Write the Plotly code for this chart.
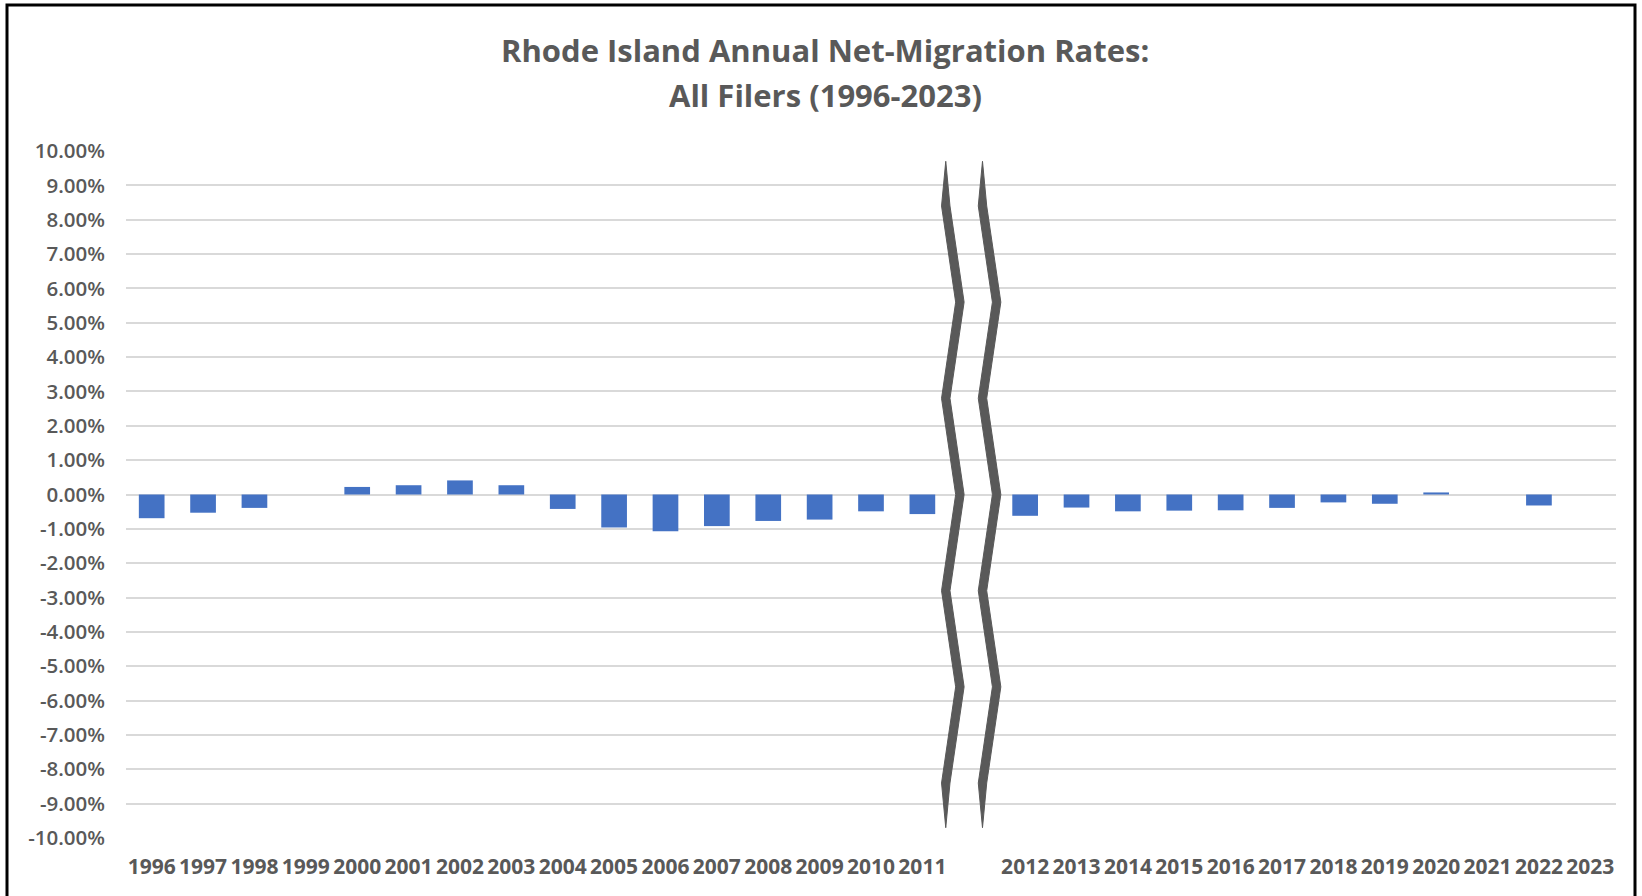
import plotly.graph_objects as go

# Years shown on the category axis; a blank slot separates the two periods
years_early = ["1996", "1997", "1998", "1999", "2000", "2001", "2002", "2003",
               "2004", "2005", "2006", "2007", "2008", "2009", "2010", "2011"]
gap_label = [" "]
years_late = ["2012", "2013", "2014", "2015", "2016", "2017", "2018", "2019",
              "2020", "2021", "2022", "2023"]

# Annual net-migration rate, all filers (fraction)
rates_early = [-0.0069, -0.0053, -0.0039, 0.0, 0.0022, 0.0027, 0.0041, 0.0027,
               -0.0042, -0.0096, -0.0107, -0.0092, -0.0077, -0.0073, -0.0049, -0.0057]
rates_late = [-0.0062, -0.0038, -0.0049, -0.0047, -0.0046, -0.0039, -0.0023, -0.0027,
              0.0006, 0.0, -0.0032, 0.0]

y_tick_values = [0.10, 0.09, 0.08, 0.07, 0.06, 0.05, 0.04, 0.03, 0.02, 0.01, 0.0,
                 -0.01, -0.02, -0.03, -0.04, -0.05, -0.06, -0.07, -0.08, -0.09, -0.10]
y_tick_labels = ["10.00%", "9.00%", "8.00%", "7.00%", "6.00%", "5.00%", "4.00%",
                 "3.00%", "2.00%", "1.00%", "0.00%", "-1.00%", "-2.00%", "-3.00%",
                 "-4.00%", "-5.00%", "-6.00%", "-7.00%", "-8.00%", "-9.00%", "-10.00%"]

title_lines = ["Rhode Island Annual Net-Migration Rates:", "All Filers (1996-2023)"]

categories = years_early + gap_label + years_late
values = rates_early + [None] + rates_late

TEXT = "#595959"
BAR = "#4472C4"
GRID = "#D9D9D9"

W, H = 1642, 896
ML, MR, MT, MB = 126, 26, 151, 58
PW, PH = W - ML - MR, H - MT - MB


def px_to_paper_x(px):
    return (px - ML) / PW


def px_to_paper_y(py):
    return (H - MB - py) / PH


fig = go.Figure()
fig.add_trace(go.Bar(
    x=categories, y=values,
    marker=dict(color=BAR, line=dict(width=0)),
    hoverinfo="x+y",
))

# Axis-break marker: two jagged strokes through the blank slot
gap_idx = categories.index(" ")
half_w = 0.082   # half stroke width, in category units
kink_y = [0.084, 0.056, 0.028, 0.0, -0.028, -0.056, -0.084]
tip_y = 0.097
shapes = []
for offset in (-0.545, 0.17):
    x_left = gap_idx + offset
    x_right = x_left + 0.275
    xs = [x_left if i % 2 == 0 else x_right for i in range(len(kink_y))]
    pts = [(x_left, tip_y)]
    pts += [(x + half_w, y) for x, y in zip(xs, kink_y)]
    pts += [(x_left, -tip_y)]
    pts += [(x - half_w, y) for x, y in reversed(list(zip(xs, kink_y)))]
    path = "M " + " L ".join(f"{x:.4f},{y:.4f}" for x, y in pts) + " Z"
    shapes.append(dict(type="path", path=path, xref="x", yref="y",
                       fillcolor=TEXT, line=dict(color=TEXT, width=1), layer="above"))

# Outer frame
shapes.append(dict(type="rect", xref="paper", yref="paper",
                   x0=px_to_paper_x(7), x1=px_to_paper_x(1635),
                   y0=px_to_paper_y(905), y1=px_to_paper_y(5),
                   line=dict(color="black", width=3), fillcolor="rgba(0,0,0,0)"))

annotations = []
for text, py in zip(title_lines, (50, 95)):
    annotations.append(dict(
        text=text, xref="paper", yref="paper",
        x=px_to_paper_x(825), y=px_to_paper_y(py),
        xanchor="center", yanchor="middle", showarrow=False,
        font=dict(family="Open Sans", size=31, color=TEXT, weight="bold"),
    ))

fig.update_layout(
    width=W, height=H,
    margin=dict(l=ML, r=MR, t=MT, b=MB),
    paper_bgcolor="white", plot_bgcolor="white",
    bargap=0.5,
    showlegend=False,
    shapes=shapes,
    annotations=annotations,
)
fig.update_xaxes(
    type="category", categoryorder="array", categoryarray=categories,
    tickangle=0, showgrid=False, showline=False, zeroline=False, ticks="",
    ticklabelstandoff=14,
    tickfont=dict(family="Open Sans", size=21, color=TEXT, weight="bold"),
)
fig.update_yaxes(
    range=[-0.10, 0.10], tickvals=y_tick_values, ticktext=y_tick_labels,
    showgrid=True, gridcolor=GRID, gridwidth=2, zeroline=False,
    showline=False, ticks="", ticklabelstandoff=20,
    tickfont=dict(family="Open Sans", size=20.5, color=TEXT, weight=600),
)

fig.write_html("out.html")
